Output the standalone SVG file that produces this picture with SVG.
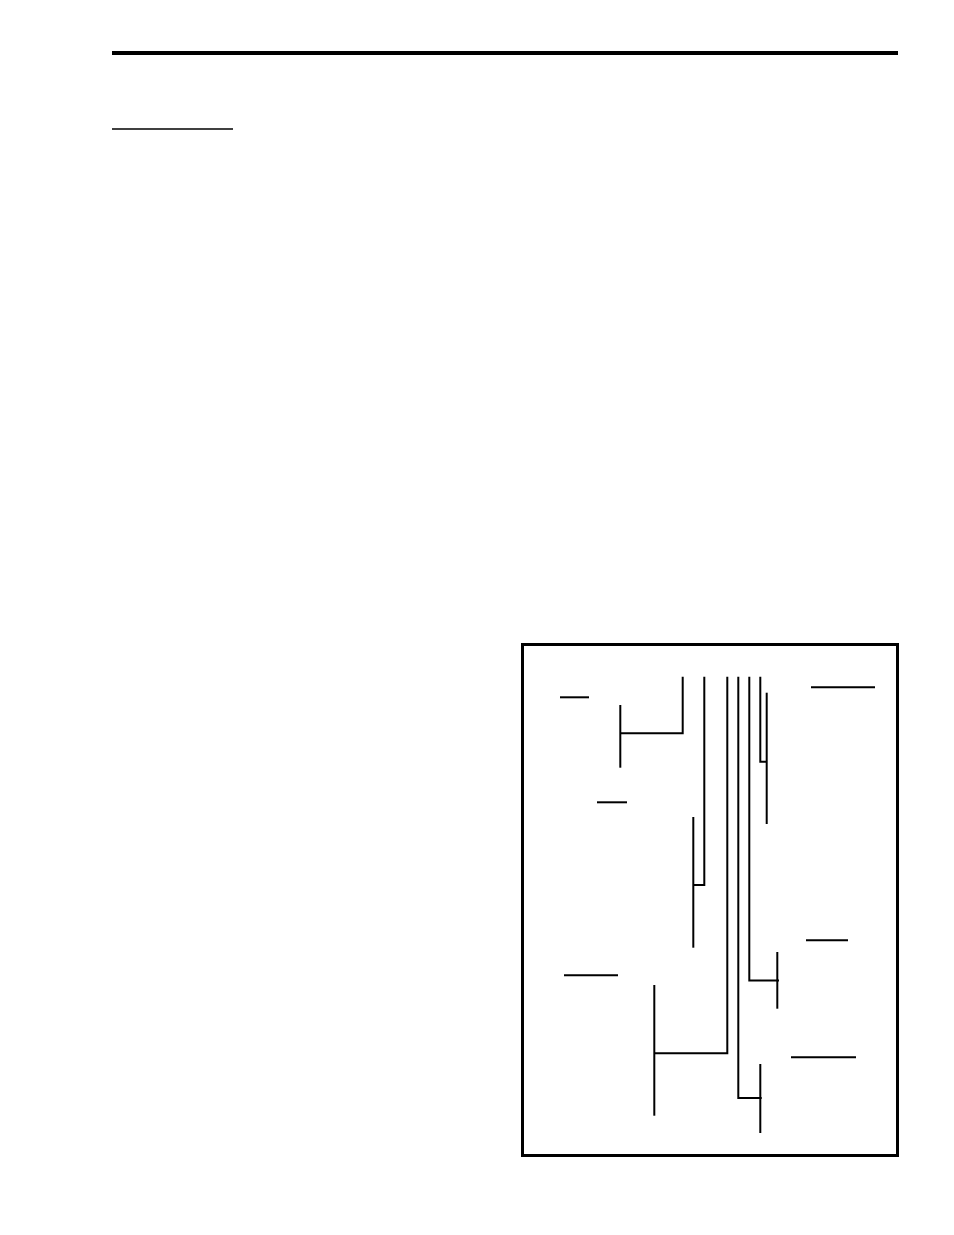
<svg xmlns="http://www.w3.org/2000/svg" width="954" height="1235" viewBox="0 0 954 1235">
<style>
.ln{stroke:#000;stroke-width:2;fill:none}
.ul{stroke:#000;stroke-width:1.5;fill:none}
</style>
<rect width="954" height="1235" fill="#fff"/>
<g id="header">
<rect x="112" y="51" width="786" height="4" fill="#000"/>
<line class="ul" x1="112" y1="129" x2="233" y2="129"/>
</g>
<g id="frame">
<rect x="522.5" y="644.5" width="375" height="511" fill="none" stroke="#000" stroke-width="3"/>
</g>
<g id="labels">
<line class="ln" x1="560" y1="697.3" x2="589" y2="697.3"/>
<line class="ln" x1="597" y1="802.3" x2="627" y2="802.3"/>
<line class="ln" x1="564" y1="975.2" x2="618" y2="975.2"/>
<line class="ln" x1="811" y1="687.3" x2="875" y2="687.3"/>
<line class="ln" x1="806" y1="940.3" x2="848" y2="940.3"/>
<line class="ln" x1="791" y1="1057.3" x2="856" y2="1057.3"/>
</g>
<g id="brackets">
<line class="ln" x1="620.3" y1="705" x2="620.3" y2="767.7"/>
<line class="ln" x1="693.3" y1="817" x2="693.3" y2="947.7"/>
<line class="ln" x1="654.3" y1="985" x2="654.3" y2="1115.7"/>
<line class="ln" x1="766.7" y1="692.7" x2="766.7" y2="824"/>
<line class="ln" x1="777.3" y1="952" x2="777.3" y2="1008.7"/>
<line class="ln" x1="760.3" y1="1064" x2="760.3" y2="1133"/>
</g>
<g id="connectors">
<polyline class="ln" points="682.7,676.7 682.7,733.3 620.3,733.3"/>
<polyline class="ln" points="704.3,676.7 704.3,885 693.3,885"/>
<polyline class="ln" points="727.3,676.7 727.3,1053.3 654.3,1053.3"/>
<polyline class="ln" points="738.3,676.7 738.3,1098 761.7,1098"/>
<polyline class="ln" points="749.3,676.7 749.3,980.5 779,980.5"/>
<polyline class="ln" points="760.3,676.7 760.3,761.7 766.7,761.7"/>
</g>
</svg>
